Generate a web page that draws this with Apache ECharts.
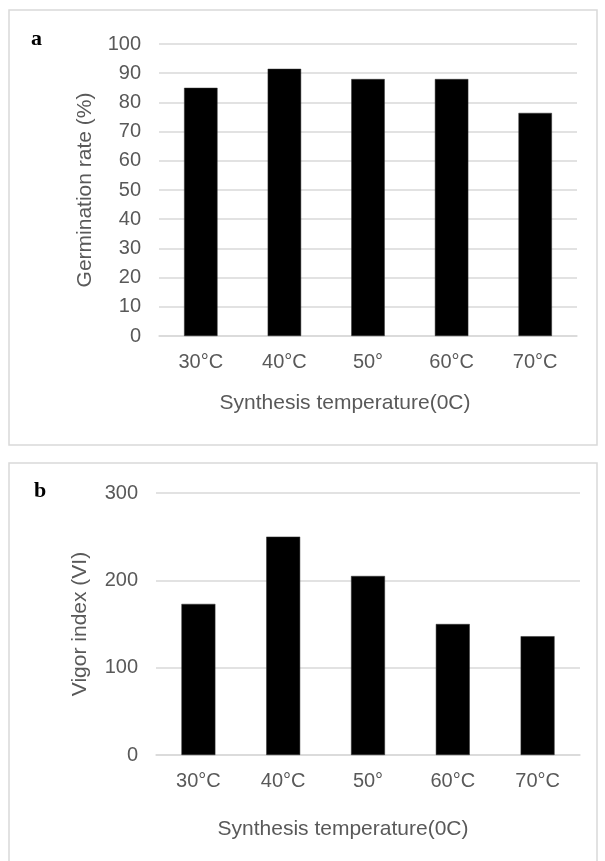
<!DOCTYPE html>
<html>
<head>
<meta charset="utf-8">
<script src="https://cdn.jsdelivr.net/npm/echarts@6/dist/echarts.min.js"></script>
<style>
html,body{margin:0;padding:0;background:#fff;}
#chart{width:605px;height:861px;}
</style>
</head>
<body>
<div id="chart"></div>
<script>
const categories = ['30°C', '40°C', '50°', '60°C', '70°C'];
const germinationRate = [85, 91.5, 88, 88, 76.4];
const vigorIndex = [173, 250, 205, 150, 136];
const yTicksA = { min: 0, max: 100, interval: 10 };
const yTicksB = { min: 0, max: 300, interval: 100 };
const xTitle = 'Synthesis temperature(0C)';
const yTitleA = 'Germination rate (%)';
const yTitleB = 'Vigor index (VI)';

const grey = '#595959';
const font = 'Liberation Sans, Arial, sans-serif';

function xAxis(gridIndex, gap, shift) {
  return {
    type: 'category', gridIndex, data: categories,
    axisLine: { show: true, lineStyle: { color: '#d9d9d9', width: 1.5 } },
    axisTick: { show: false },
    axisLabel: { color: grey, fontSize: 20, fontFamily: font, margin: 16 },
    name: xTitle, nameLocation: 'middle', nameGap: gap,
    nameTextStyle: { color: grey, fontSize: 21, fontFamily: font, padding: [0, shift, 0, 0] }
  };
}
function yAxis(gridIndex, ticks, title, gap) {
  return {
    type: 'value', gridIndex, min: ticks.min, max: ticks.max, interval: ticks.interval,
    axisLine: { show: false }, axisTick: { show: false },
    splitLine: { lineStyle: { color: '#d9d9d9', width: 1.5 } },
    axisLabel: { color: grey, fontSize: 20, fontFamily: font, margin: 18 },
    name: title, nameLocation: 'middle', nameGap: gap, nameRotate: 90,
    nameTextStyle: { color: grey, fontSize: 21, fontFamily: font }
  };
}

const chart = echarts.init(document.getElementById('chart'), null, { renderer: 'canvas' });
chart.setOption({
  backgroundColor: '#fff',
  animation: false,
  grid: [
    { left: 159, right: 28, top: 44, height: 292 },
    { left: 156, right: 25, top: 493, height: 262 }
  ],
  xAxis: [xAxis(0, 57, 46), xAxis(1, 64, 50)],
  yAxis: [yAxis(0, yTicksA, yTitleA, 63), yAxis(1, yTicksB, yTitleB, 65)],
  series: [
    { type: 'bar', xAxisIndex: 0, yAxisIndex: 0, data: germinationRate, barCategoryGap: '60%',
      itemStyle: { color: '#000', borderColor: '#333', borderWidth: 0.5 } },
    { type: 'bar', xAxisIndex: 1, yAxisIndex: 1, data: vigorIndex, barCategoryGap: '60%',
      itemStyle: { color: '#000', borderColor: '#333', borderWidth: 0.5 } }
  ],
  graphic: [
    { type: 'rect', shape: { x: 9, y: 10, width: 588, height: 435 }, style: { fill: 'none', stroke: '#d9d9d9', lineWidth: 1.5 }, silent: true },
    { type: 'rect', shape: { x: 9, y: 463, width: 588, height: 410 }, style: { fill: 'none', stroke: '#d9d9d9', lineWidth: 1.5 }, silent: true },
    { type: 'text', left: 31, top: 28, style: { text: 'a', font: 'bold 22px "Liberation Serif", "Times New Roman", serif', fill: '#000' } },
    { type: 'text', left: 34, top: 480, style: { text: 'b', font: 'bold 22px "Liberation Serif", "Times New Roman", serif', fill: '#000' } }
  ]
});
</script>
</body>
</html>
